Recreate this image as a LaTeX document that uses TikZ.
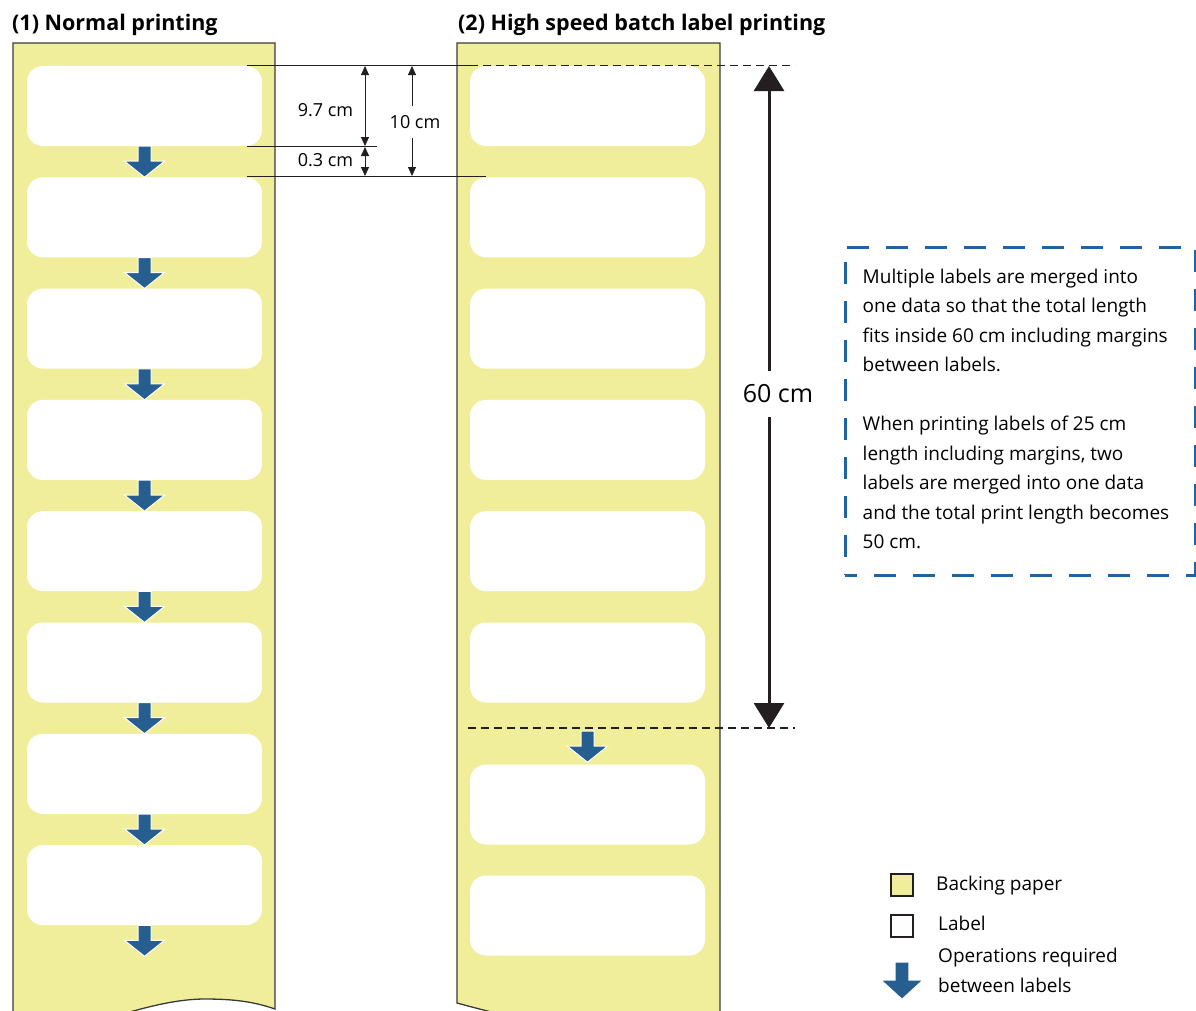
\documentclass[tikz,border=0pt]{standalone}
\usepackage{fontspec}
\setmainfont{Open Sans}
\usetikzlibrary{arrows.meta,positioning}
\definecolor{backing}{HTML}{F1EE9B}
\definecolor{edge}{HTML}{3A3A3A}
\definecolor{ink}{HTML}{231F20}
\definecolor{opsblue}{HTML}{265E8F}
\definecolor{noteblue}{HTML}{1F63A5}
\tikzset{opsarrow/.pic={\fill[opsblue,draw=white,line width=1pt] (-6.5,0) -- (-6.5,15) -- (-20,15) -- (0,31) -- (20,15) -- (6.5,15) -- (6.5,0) -- cycle;}}

\begin{document}
\begin{tikzpicture}[x=1pt,y=-1pt,every node/.style={font=\fontsize{19}{29.5}\selectfont,inner sep=0pt},
title/.style={font=\fontsize{21.5}{28}\selectfont\bfseries,anchor=base west},
dimtext/.style={font=\fontsize{18}{22}\selectfont},
strip/.style={fill=backing,draw=edge,line width=1.3pt},
lbl/.style={fill=white,rounded corners=16pt,minimum width=235pt,minimum height=80pt},
ext/.style={ink,line width=0.9pt},
guide/.style={ink,line width=1.1pt,dash pattern=on 8pt off 5pt},
dim/.style={{Triangle[length=9pt,width=8pt]}-{Triangle[length=9pt,width=8pt]},ink,line width=0.8pt},
bigdim/.style={{Triangle[length=25pt,width=30pt]}-{Triangle[length=25pt,width=30pt]},ink,line width=3pt},
notebox/.style={draw=noteblue,line width=3pt,dash pattern=on 22pt off 17pt,dash phase=10pt,minimum width=350pt,minimum height=328pt},
legbox/.style={draw=ink,line width=2pt,minimum size=22pt}]
\clip (0,0) rectangle (1196,1010);
\node[title] (t1) at (12,30) {(1) Normal printing};
\node[title] (t2) at (458,30) {(2) High speed batch label printing};
% backing paper
\draw[strip] (13,1030) -- (13,43) -- (275,43) -- (275,1009) .. controls (255,1002) and (235,999) .. (205,999) .. controls (165,999) and (120,1015) .. (70,1030) -- cycle;
\draw[strip] (457,1003) -- (457,43) -- (720,43) -- (720,1030) -- (600,1030) .. controls (540,1025) and (490,1012) .. (457,1003) -- cycle;
% labels, normal printing
\node[lbl] (l1) at (144.5,106) {};
\node[lbl] (l2) at (144.5,217.3) {};
\node[lbl] (l3) at (144.5,328.6) {};
\node[lbl] (l4) at (144.5,439.9) {};
\node[lbl] (l5) at (144.5,551.2) {};
\node[lbl] (l6) at (144.5,662.5) {};
\node[lbl] (l7) at (144.5,773.8) {};
\node[lbl] (l8) at (144.5,885.1) {};
% labels, batch printing
\node[lbl] (r1) at (587.5,106) {};
\node[lbl] (r2) at (587.5,217.3) {};
\node[lbl] (r3) at (587.5,328.6) {};
\node[lbl] (r4) at (587.5,439.9) {};
\node[lbl] (r5) at (587.5,551.2) {};
\node[lbl] (r6) at (587.5,662.5) {};
\node[lbl] (r7) at (587.5,804.5) {};
\node[lbl] (r8) at (587.5,915.5) {};
\pic at (l1.south) {opsarrow};\pic at (l2.south) {opsarrow};\pic at (l3.south) {opsarrow};\pic at (l4.south) {opsarrow};
\pic at (l5.south) {opsarrow};\pic at (l6.south) {opsarrow};\pic at (l7.south) {opsarrow};\pic at (l8.south) {opsarrow};
\pic at ([yshift=-28.5pt]r6.south) {opsarrow};
% dimensions
\coordinate (x1a) at (247,65.5);\coordinate (x1b) at (470,65.5);
\coordinate (x2a) at (247,146.5);\coordinate (x2b) at (377,146.5);
\coordinate (x3a) at (247,176.5);\coordinate (x3b) at (486,176.5);
\coordinate (g1a) at (470,65.5);\coordinate (g1b) at (795,65.5);
\coordinate (g2a) at (468,728);\coordinate (g2b) at (795,728);
\draw[ext] (x1a)--(x1b);\draw[ext] (x2a)--(x2b);\draw[ext] (x3a)--(x3b);
\draw[guide] (g1a)--(g1b);\draw[guide] (g2a)--(g2b);
\coordinate (d97t) at (365,66);\coordinate (d97b) at (365,146);
\coordinate (d03t) at (365,147);\coordinate (d03b) at (365,176);
\coordinate (d10t) at (412,66);\coordinate (d10b) at (412,176);
\coordinate (d60t) at (769,66);\coordinate (d60b) at (769,728);
\draw[dim] (d97t)--(d97b);\draw[dim] (d03t)--(d03b);\draw[dim] (d10t)--(d10b);
\draw[bigdim] (d60t)--(d60b);
\node[dimtext] (m97) at (325.5,110) {9.7 cm};
\node[dimtext] (m03) at (325.5,160) {0.3 cm};
\node[dimtext,fill=white,inner xsep=2pt,inner ysep=9pt] (m10) at (415,122) {10 cm};
\node[fill=white,font=\fontsize{25}{28}\selectfont,inner xsep=2pt,inner ysep=14pt] (m60) at (778,394) {60 cm};
% note
\node[notebox] (note) at (1020,411) {};
\node[anchor=north west,align=left] (notetext) at ([shift={(19,23)}]note.north west) {Multiple labels are merged into\\one data so that the total length\\fits inside 60 cm including margins\\between labels.\\[29.5pt]When printing labels of 25 cm\\length including margins, two\\labels are merged into one data\\and the total print length becomes\\50 cm.};
% legend
\node[legbox,fill=backing] (kb) at (902,884.5) {};
\node[legbox,fill=white] (kl) at (902,926) {};
\node[anchor=base west] (kbt) at (936,890) {Backing paper};
\node[anchor=base west] (klt) at (938,930) {Label};
\pic[xscale=1.05,yscale=1.2] at (902,962) {opsarrow};
\node[anchor=north west,align=left] (kot) at (938,948) {Operations required\\between labels};
\end{tikzpicture}
\end{document}
